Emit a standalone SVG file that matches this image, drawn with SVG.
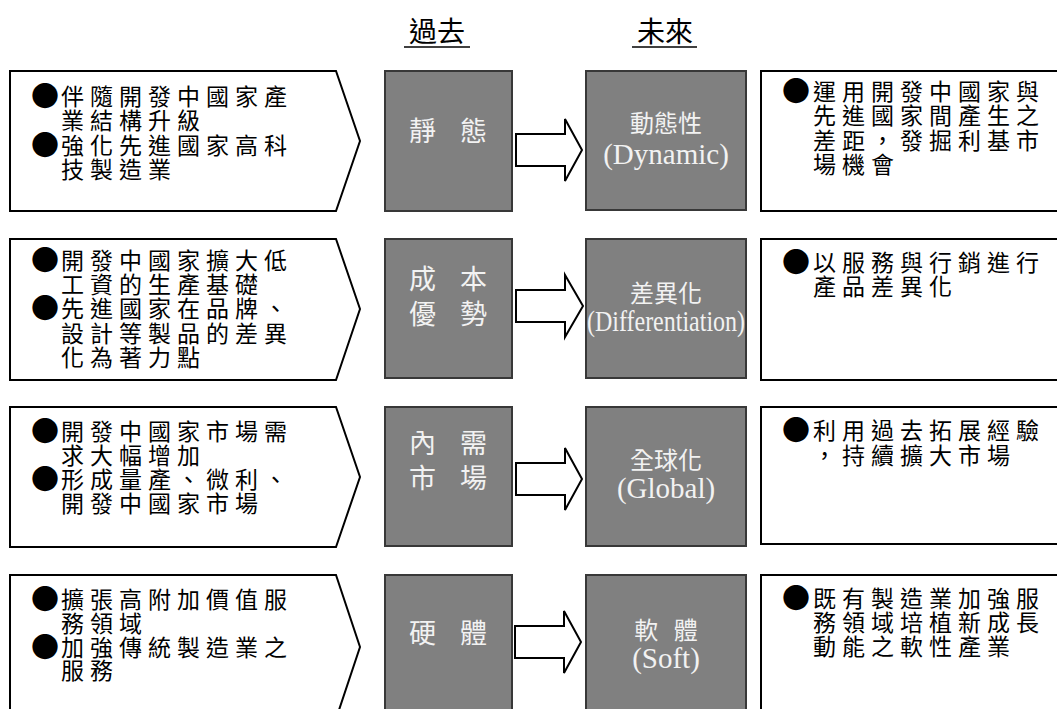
<svg xmlns="http://www.w3.org/2000/svg" width="1057" height="709" viewBox="0 0 1057 709">
<style>
.lbox{fill:#fff;stroke:#000;stroke-width:2}
.gbox{fill:#808080;stroke:#383838;stroke-width:2}
.arrow{fill:#fff;stroke:#000;stroke-width:2}
.t{font-family:"Noto Sans CJK TC","Noto Sans CJK SC",sans-serif;font-size:23px;letter-spacing:6px;fill:#000}
.b{font-size:28px;letter-spacing:0}
.g{font-family:"Noto Sans CJK TC","Noto Sans CJK SC",sans-serif;font-size:27px;fill:#f2f2f2;text-anchor:middle;word-spacing:18px}
.g2{font-family:"Noto Sans CJK TC","Noto Sans CJK SC",sans-serif;font-size:24px;fill:#f2f2f2;text-anchor:middle;word-spacing:10px}
.e{font-family:"Liberation Serif",serif;font-size:29px;fill:#f2f2f2;text-anchor:middle}
.h{font-family:"Noto Sans CJK TC","Noto Sans CJK SC",sans-serif;font-size:28px;fill:#000;text-anchor:middle}
.ul{stroke:#000;stroke-width:1.6}
</style>
<rect width="1057" height="709" fill="#fff"/>
<g id="header">
<text class="h" x="437" y="42">過去</text>
<line class="ul" x1="404" y1="47" x2="470" y2="47"/>
<text class="h" x="665" y="42">未來</text>
<line class="ul" x1="632" y1="47" x2="697" y2="47"/>
</g>
<g id="past-note-1">
<path class="lbox" d="M10,71 H336 L360,141 L336,211 H10 Z"/>
<text class="t"><tspan class="b" x="31" y="107">●</tspan><tspan x="61" y="105">伴隨開發中國家產</tspan><tspan x="61" y="129">業結構升級</tspan><tspan class="b" x="31" y="156">●</tspan><tspan x="61" y="154">強化先進國家高科</tspan><tspan x="61" y="178">技製造業</tspan></text>
</g>
<g id="past-1">
<rect class="gbox" x="385" y="71" width="127" height="140"/>
<text class="g" x="448" y="141">靜 態</text>
</g>
<g id="future-1">
<rect class="gbox" x="586" y="71" width="160" height="139"/>
<text class="g2" x="666" y="132">動態性</text>
<text class="e" x="666" y="164">(Dynamic)</text>
</g>
<g id="future-note-1">
<rect class="lbox" x="761" y="71" width="320" height="140"/>
<text class="t"><tspan class="b" x="782" y="102">●</tspan><tspan x="813" y="100">運用開發中國家與</tspan><tspan x="813" y="124">先進國家間產生之</tspan><tspan x="813" y="149">差距，發掘利基市</tspan><tspan x="813" y="173">場機會</tspan></text>
</g>
<g id="past-note-2">
<path class="lbox" d="M10,239 H336 L360,309 L336,380 H10 Z"/>
<text class="t"><tspan class="b" x="31" y="271">●</tspan><tspan x="61" y="269">開發中國家擴大低</tspan><tspan x="61" y="293">工資的生產基礎</tspan><tspan class="b" x="31" y="319">●</tspan><tspan x="61" y="317">先進國家在品牌、</tspan><tspan x="61" y="342">設計等製品的差異</tspan><tspan x="61" y="366">化為著力點</tspan></text>
</g>
<g id="past-2">
<rect class="gbox" x="385" y="239" width="127" height="139"/>
<text class="g"><tspan x="448" y="289">成 本</tspan><tspan x="448" y="324">優 勢</tspan></text>
</g>
<g id="future-2">
<rect class="gbox" x="586" y="239" width="160" height="139"/>
<text class="g2" x="666" y="302">差異化</text>
<text class="e" x="666" y="331" textLength="158" lengthAdjust="spacingAndGlyphs">(Differentiation)</text>
</g>
<g id="future-note-2">
<rect class="lbox" x="761" y="239" width="320" height="141"/>
<text class="t"><tspan class="b" x="782" y="273">●</tspan><tspan x="813" y="271">以服務與行銷進行</tspan><tspan x="813" y="295">產品差異化</tspan></text>
</g>
<g id="past-note-3">
<path class="lbox" d="M10,407 H336 L360,477 L336,547 H10 Z"/>
<text class="t"><tspan class="b" x="31" y="442">●</tspan><tspan x="61" y="440">開發中國家市場需</tspan><tspan x="61" y="464">求大幅增加</tspan><tspan class="b" x="31" y="490">●</tspan><tspan x="61" y="488">形成量產、微利、</tspan><tspan x="61" y="512">開發中國家市場</tspan></text>
</g>
<g id="past-3">
<rect class="gbox" x="385" y="407" width="127" height="139"/>
<text class="g"><tspan x="448" y="453">內 需</tspan><tspan x="448" y="488">市 場</tspan></text>
</g>
<g id="future-3">
<rect class="gbox" x="586" y="407" width="160" height="139"/>
<text class="g2" x="666" y="469">全球化</text>
<text class="e" x="666" y="498">(Global)</text>
</g>
<g id="future-note-3">
<rect class="lbox" x="761" y="407" width="320" height="137"/>
<text class="t"><tspan class="b" x="782" y="441">●</tspan><tspan x="813" y="439">利用過去拓展經驗</tspan><tspan x="813" y="464">，持續擴大市場</tspan></text>
</g>
<g id="past-note-4">
<path class="lbox" d="M10,575 H336 L360,647 L336,719 H10 Z"/>
<text class="t"><tspan class="b" x="31" y="610">●</tspan><tspan x="61" y="608">擴張高附加價值服</tspan><tspan x="61" y="632">務領域</tspan><tspan class="b" x="31" y="658">●</tspan><tspan x="61" y="656">加強傳統製造業之</tspan><tspan x="61" y="679">服務</tspan></text>
</g>
<g id="past-4">
<rect class="gbox" x="385" y="575" width="127" height="150"/>
<text class="g" x="448" y="643">硬 體</text>
</g>
<g id="future-4">
<rect class="gbox" x="586" y="575" width="160" height="150"/>
<text class="g2" x="666" y="639">軟 體</text>
<text class="e" x="666" y="668">(Soft)</text>
</g>
<g id="future-note-4">
<rect class="lbox" x="761" y="575" width="320" height="150"/>
<text class="t"><tspan class="b" x="782" y="609">●</tspan><tspan x="813" y="607">既有製造業加強服</tspan><tspan x="813" y="631">務領域培植新成長</tspan><tspan x="813" y="655">動能之軟性產業</tspan></text>
</g>
<g id="connectors">
<path class="arrow" d="M516,134 H565 V119 L582,150 L565,181 V166 H516 Z"/>
<path class="arrow" d="M516,290 H565 V275 L583,306 L565,337 V322 H516 Z"/>
<path class="arrow" d="M516,463 H565 V448 L582,479 L565,510 V495 H516 Z"/>
<path class="arrow" d="M515,626 H564 V611 L581,642 L564,673 V658 H515 Z"/>
</g>
</svg>
